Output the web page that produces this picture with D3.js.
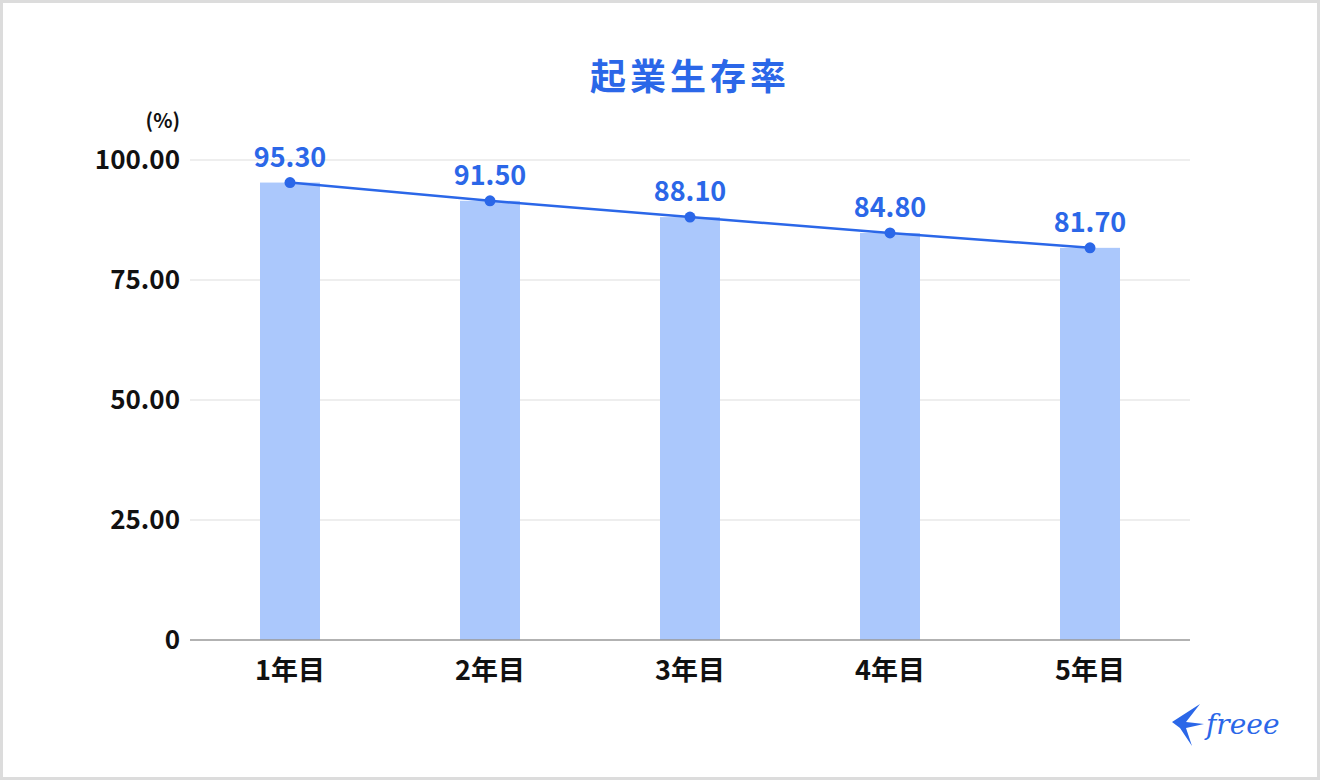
<!DOCTYPE html>
<html><head><meta charset="utf-8">
<script src="https://cdn.jsdelivr.net/npm/d3@7"></script>
<style>body{margin:0;background:#fff}svg{display:block}</style>
</head><body>
<svg id="c" width="1320" height="780"></svg>
<script>
const categories=["1年目","2年目","3年目","4年目","5年目"];
const values=[95.3,91.5,88.1,84.8,81.7];
const ticks=[0,25,50,75,100];
const tickLabels=["0","25.00","50.00","75.00","100.00"];
const title="起業生存率";
const unit="(%)";
const svg=d3.select("#c");
const font="'Noto Sans CJK JP','Noto Sans',sans-serif";
const blue="#2b67e8";
svg.append("rect").attr("x",1.5).attr("y",1.5).attr("width",1317).attr("height",777).attr("fill","#fff").attr("stroke","#dcdcdc").attr("stroke-width",3);
const x=d3.scaleBand().domain(categories).range([190,1190]);
const y=d3.scaleLinear().domain([0,100]).range([640,160]);
svg.append("text").attr("x",690).attr("y",90).attr("text-anchor","middle").attr("font-family",font).attr("font-weight",700).attr("font-size",36).attr("fill",blue).attr("letter-spacing",4).text(title);
svg.append("text").attr("x",180).attr("y",128).attr("text-anchor","end").attr("font-family",font).attr("font-weight",700).attr("font-size",20).attr("fill","#111").text(unit);
ticks.forEach((t,i)=>{
  if(t>0) svg.append("line").attr("x1",190).attr("x2",1190).attr("y1",y(t)).attr("y2",y(t)).attr("stroke","#e8e8e8").attr("stroke-width",1.5);
  svg.append("text").attr("x",180).attr("y",y(t)).attr("dy","0.36em").attr("text-anchor","end").attr("font-family",font).attr("font-weight",700).attr("font-size",26).attr("fill","#111").text(tickLabels[i]);
});
svg.selectAll(".bar").data(values).enter().append("rect").attr("x",(d,i)=>x(categories[i])+x.bandwidth()/2-30).attr("width",60).attr("y",d=>y(d)).attr("height",d=>640-y(d)).attr("fill","#abc8fc");
svg.append("line").attr("x1",190).attr("x2",1190).attr("y1",640).attr("y2",640).attr("stroke","#999").attr("stroke-width",1.5);
const cx=i=>x(categories[i])+x.bandwidth()/2;
svg.append("path").attr("d",d3.line().x((d,i)=>cx(i)).y(d=>y(d))(values)).attr("fill","none").attr("stroke",blue).attr("stroke-width",2.5);
values.forEach((v,i)=>{
  svg.append("circle").attr("cx",cx(i)).attr("cy",y(v)).attr("r",5.5).attr("fill",blue);
  svg.append("text").attr("x",cx(i)).attr("y",y(v)-16).attr("text-anchor","middle").attr("font-family",font).attr("font-weight",700).attr("font-size",27).attr("fill",blue).text(v.toFixed(2));
  svg.append("text").attr("x",cx(i)).attr("y",680).attr("text-anchor","middle").attr("font-family",font).attr("font-weight",700).attr("font-size",27).attr("fill","#111").text(categories[i]);
});
// logo
const g=svg.append("g").attr("fill",blue);
g.append("path").attr("d","M1172 722 L1200 704 L1186 722 L1204 724 L1186 728 L1192 746 L1180 728 Z");
g.append("text").attr("x",1206).attr("y",734).attr("font-family","'DejaVu Serif',serif").attr("font-style","italic").attr("font-size",28).text("freee");
</script>
</body></html>
